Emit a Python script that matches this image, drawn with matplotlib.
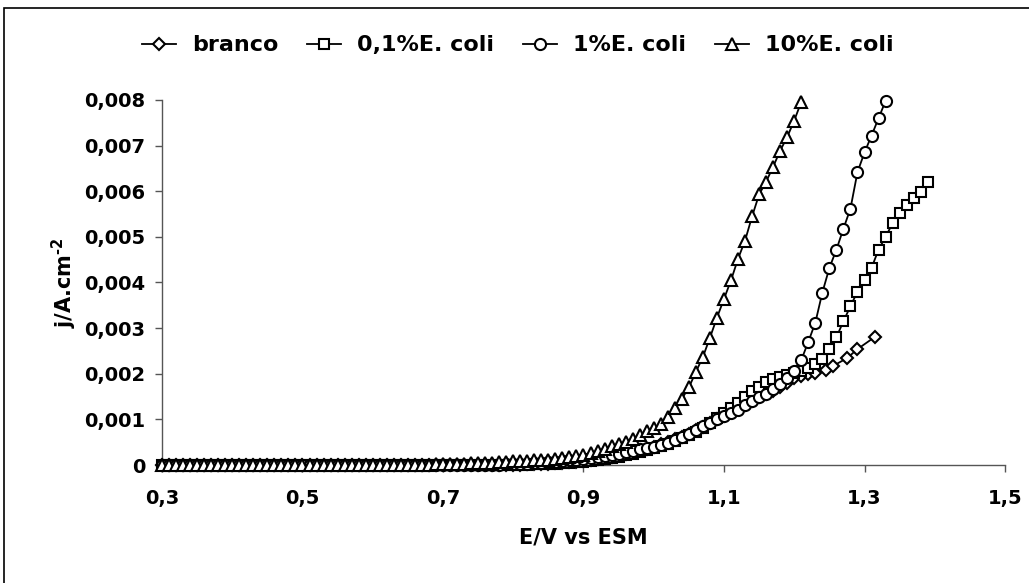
import numpy as np
import matplotlib
matplotlib.use('Agg')
import matplotlib.pyplot as plt
from matplotlib.ticker import FuncFormatter
from matplotlib.patches import Rectangle

plt.rcParams['font.family'] = ['DejaVu Sans']
plt.rcParams['font.weight'] = 'bold'

# potential sweep, 10 mV steps (V vs ESM)
e_scan = np.round(np.arange(0.30, 1.40, 0.01), 2)

# current density j (A/cm2), one value per step from 0.30 V
j_branco = [
    0, 0, 0, 0, 0, 0, 0, 0, 0, 0,
    0, 0, 0, 0, 0, 0, 0, 0, 0, 0,
    0, 0, 0, 0, 0, 0, 0, 0, 0, 0,
    0, 0, 0, 0, 0, 0, 0, 0, 0, 0,
    0, 0, 0, 0, 0, 0, 0, 0, 0, 0,
    0.00001, 0.00001, 0.00002, 0.00002, 0.00003, 0.00003, 0.00004, 0.00005, 0.00006, 0.00007,
    0.00009, 0.00011, 0.00013, 0.00015, 0.00018, 0.00021, 0.00024, 0.00028, 0.00032, 0.00036,
    0.00040, 0.00045, 0.00050, 0.00056, 0.00062, 0.00069, 0.00076, 0.00084, 0.00092, 0.00100,
    0.00108, 0.00116, 0.00124, 0.00132, 0.00140, 0.00148, 0.00156, 0.00163, 0.00170, 0.00180,
    0.00190, 0.00195, 0.00199, 0.00202,
]
# last branco points are spaced wider
e_branco_tail = [1.245, 1.255, 1.275, 1.29, 1.315]
j_branco_tail = [0.00208, 0.00217, 0.00234, 0.00254, 0.00281]

j_01 = [
    0, 0, 0, 0, 0, 0, 0, 0, 0, 0,
    0, 0, 0, 0, 0, 0, 0, 0, 0, 0,
    0, 0, 0, 0, 0, 0, 0, 0, 0, 0,
    0, 0, 0, 0, 0, 0, 0, 0, 0, 0,
    0, 0, 0, 0, 0, 0, 0, 0, 0, 0,
    0.00001, 0.00001, 0.00001, 0.00002, 0.00002, 0.00003, 0.00003, 0.00004, 0.00005, 0.00006,
    0.00007, 0.00009, 0.00011, 0.00013, 0.00015, 0.00018, 0.00021, 0.00025, 0.00029, 0.00033,
    0.00037, 0.00042, 0.00047, 0.00053, 0.00059, 0.00066, 0.00073, 0.00082, 0.00092, 0.00103,
    0.00114, 0.00124, 0.00136, 0.00150, 0.00162, 0.00172, 0.00182, 0.00188, 0.00193, 0.00197,
    0.00201, 0.00207, 0.00213, 0.00222, 0.00233, 0.00255, 0.00280, 0.00315, 0.00348, 0.00380,
    0.00405, 0.00432, 0.00472, 0.00500, 0.00530, 0.00552, 0.00570, 0.00586, 0.00599, 0.00621,
]

j_1 = [
    0, 0, 0, 0, 0, 0, 0, 0, 0, 0,
    0, 0, 0, 0, 0, 0, 0, 0, 0, 0,
    0, 0, 0, 0, 0, 0, 0, 0, 0, 0,
    0, 0, 0, 0, 0, 0, 0, 0, 0, 0,
    0, 0, 0, 0, 0, 0, 0,
    0.00001, 0.00001, 0.00002, 0.00002, 0.00003, 0.00003, 0.00004, 0.00005, 0.00006, 0.00007,
    0.00008, 0.00010, 0.00012, 0.00014, 0.00016, 0.00018, 0.00020, 0.00022, 0.00025, 0.00028,
    0.00031, 0.00034, 0.00037, 0.00039, 0.00044, 0.00048, 0.00055, 0.00061, 0.00068, 0.00076,
    0.00085, 0.00092, 0.00101, 0.00108, 0.00113, 0.00121, 0.00132, 0.00141, 0.00148, 0.00156,
    0.00167, 0.00178, 0.00190, 0.00206, 0.00230, 0.00270, 0.00312, 0.00378, 0.00432, 0.00472,
    0.00518, 0.00562, 0.00642, 0.00685, 0.00722, 0.00760, 0.00798,
]

j_10 = [
    0, 0, 0, 0, 0, 0, 0, 0, 0, 0,
    0, 0, 0, 0, 0, 0, 0, 0, 0, 0,
    0, 0, 0, 0, 0, 0, 0, 0, 0, 0,
    0, 0, 0, 0, 0, 0, 0,
    0.00001, 0.00001, 0.00002, 0.00002, 0.00002, 0.00003, 0.00003, 0.00004, 0.00004, 0.00005,
    0.00005, 0.00006, 0.00007, 0.00008, 0.00008, 0.00009, 0.00010, 0.00011, 0.00012, 0.00013,
    0.00015, 0.00017, 0.00020, 0.00023, 0.00026, 0.00031, 0.00036, 0.00041, 0.00046, 0.00051,
    0.00058, 0.00066, 0.00074, 0.00080, 0.00090, 0.00106, 0.00124, 0.00145, 0.00170, 0.00204,
    0.00237, 0.00279, 0.00323, 0.00364, 0.00405, 0.00452, 0.00492, 0.00545, 0.00593, 0.00621,
    0.00654, 0.00689, 0.00719, 0.00755, 0.00796,
]

labels = ['branco', '0,1%E. coli', '1%E. coli', '10%E. coli']
markers = ['D', 's', 'o', '^']
msizes = [6.5, 7.5, 8, 8.5]

e_branco = np.concatenate([e_scan[:len(j_branco)], e_branco_tail])
j_branco_all = np.concatenate([j_branco, j_branco_tail])
series = [
    (e_branco, j_branco_all),
    (e_scan[:len(j_01)], np.array(j_01)),
    (e_scan[:len(j_1)], np.array(j_1)),
    (e_scan[:len(j_10)], np.array(j_10)),
]

fig = plt.figure(figsize=(10.29, 5.83), dpi=100)
ax = fig.add_axes([0.1574, 0.2024, 0.8193, 0.6261])

for k, (xs, ys) in enumerate(series):
    ax.plot(xs, ys, color='black', lw=1.3, marker=markers[k], ms=msizes[k],
            mfc='white', mec='black', mew=1.5, label=labels[k],
            clip_on=False, zorder=3 + k)

ax.set_xlim(0.3, 1.5)
ax.set_ylim(0, 0.008)
ax.set_xticks([0.3, 0.5, 0.7, 0.9, 1.1, 1.3, 1.5])
ax.set_yticks(np.arange(0, 0.0081, 0.001))


def comma_fmt(v, pos):
    if abs(v) < 1e-12:
        return '0'
    return ('%.3f' % v).replace('.', ',')


ax.xaxis.set_major_formatter(FuncFormatter(lambda v, p: ('%.1f' % v).replace('.', ',')))
ax.yaxis.set_major_formatter(FuncFormatter(comma_fmt))

for side in ['top', 'right']:
    ax.spines[side].set_visible(False)
for side in ['left', 'bottom']:
    ax.spines[side].set_color('#555555')
    ax.spines[side].set_linewidth(1.0)

ax.tick_params(axis='both', direction='out', length=5, width=1.0, color='#555555',
               labelsize=14)
ax.tick_params(axis='x', pad=12)
ax.tick_params(axis='y', pad=7)
for t in ax.get_xticklabels() + ax.get_yticklabels():
    t.set_fontweight('bold')

ax.set_xlabel('E/V vs ESM', fontsize=15, fontweight='bold', labelpad=14)
ax.set_ylabel(r'j/A.cm$^{\mathbf{\text{-}2}}$', fontsize=15, fontweight='bold', labelpad=4)

handles, labs = ax.get_legend_handles_labels()
fig.legend(handles, labs, loc='center', bbox_to_anchor=(0.503, 0.922), ncol=4,
           frameon=False, handlelength=1.55, handletextpad=0.7,
           columnspacing=1.3, prop={'weight': 'bold', 'size': 16})

# outer chart frame (left and top edges visible, rest cropped)
fig.patches.append(Rectangle((0.0035, -0.05), 1.2, 1.036,
                             transform=fig.transFigure, fill=False,
                             edgecolor='black', lw=1.2))

fig.savefig('out.png', dpi=100)
